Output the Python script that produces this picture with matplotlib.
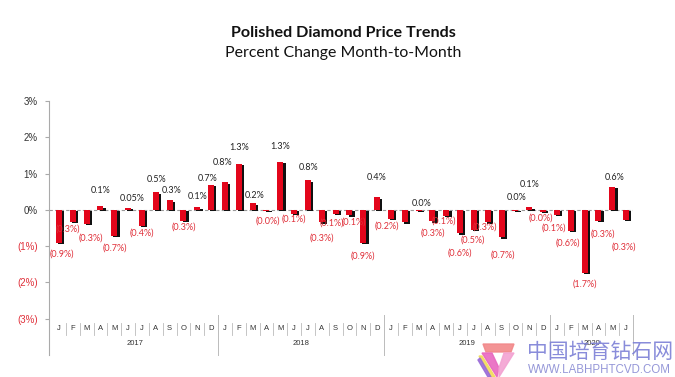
import matplotlib
matplotlib.use("Agg")
import matplotlib.pyplot as plt
from matplotlib.patches import Polygon

# ---------------- data ----------------
months = list("JFMAMJJASOND") * 3 + list("JFMAMJ")
years = ["2017", "2018", "2019", "2020"]
values = [-0.9, -0.33, -0.38, 0.1, -0.72, 0.05, -0.44, 0.49, 0.26, -0.3, 0.07, 0.69,
          0.76, 1.27, 0.18, -0.02, 1.32, -0.11, 0.81, -0.34, -0.11, -0.15, -0.9, 0.35,
          -0.25, -0.34, -0.02, -0.31, -0.16, -0.65, -0.55, -0.34, -0.76, -0.02, 0.07, -0.05,
          -0.13, -0.57, -1.73, -0.3, 0.63, -0.28]
labels = ["(0.9%)", "(0.3%)", "(0.3%)", "0.1%", "(0.7%)", "0.05%", "(0.4%)", "0.5%", "0.3%", "(0.3%)", "0.1%", "0.7%",
          "0.8%", "1.3%", "0.2%", "(0.0%)", "1.3%", "(0.1%)", "0.8%", "(0.3%)", "(0.1%)", "(0.1%)", "(0.9%)", "0.4%",
          "(0.2%)", None, "0.0%", "(0.3%)", "(0.1%)", "(0.6%)", "(0.5%)", "(0.3%)", "(0.7%)", "0.0%", "0.1%", "(0.0%)",
          "(0.1%)", "(0.6%)", "(1.7%)", "(0.3%)", "0.6%", "(0.3%)"]
ytick_vals = [3, 2, 1, 0, -1, -2, -3]
ytick_labels = ["3%", "2%", "1%", "0%", "(1%)", "(2%)", "(3%)"]

# label placement (pixel offsets from bar end; dy positive = downwards)
lbl_dx = [3, -5, 4, 0, 1, 4, 0, 1, 2, 0, 0, -3,
          -2, 0, 2, 1, 0, 0, 1, 0, -4, 4, 0, 0,
          -4, 0, 3, 0, -2, 0, -1, -3, 1, 1, 0, -2,
          -3, -3, 0, 4, 2, -2]
lbl_dy = [12, 7, 14, -16, 12, -10, 7, -13, -10, 6, -11, -6,
          -20, -16, -8, 10, -15, 5, -13, 16, 9, 7, 14, -20,
          7, 0, -7, 12, 5, 20, 10, 5, 18, -13, -23, 6,
          14, 13, 11, 13, -9, 27]

W, H = 675, 377
fig = plt.figure(figsize=(W / 100, H / 100), dpi=100)
fig.patch.set_facecolor("white")

ax = fig.add_axes([49 / W, 1 - 355 / H, (633 - 49) / W, (355 - 101) / H])
ax.set_xlim(-0.72, 41.5)
ax.set_ylim(-4.0, 3.0)

x = list(range(len(values)))
# shadow then red bar
ax.bar([i + 0.16 for i in x], values, width=0.44, bottom=-0.04, color="#111111", zorder=2)
ax.bar(x, values, width=0.44, color="#E3061B", zorder=3)

# zero line
ax.plot([-0.72, 41.5], [0, 0], color="#9a9a9a", lw=0.8, ls=(0, (3, 2)), zorder=1)

# data labels
for i, (v, lab) in enumerate(zip(values, labels)):
    if lab is None:
        continue
    col = "#E0303A" if lab.startswith("(") else "#222222"
    ax.annotate(lab, (i, v), xytext=(lbl_dx[i], -lbl_dy[i]), textcoords="offset pixels",
                ha="center", va="center", fontsize=6.5, color=col, family="Lato", zorder=5)

# y axis
for s in ["top", "right", "bottom"]:
    ax.spines[s].set_visible(False)
ax.spines["left"].set_color("#aaaaaa")
ax.spines["left"].set_linewidth(0.8)
ax.set_xticks([])
ax.set_yticks(ytick_vals)
ax.set_yticklabels(ytick_labels, family="Liberation Sans", fontsize=7)
for t, lab in zip(ax.get_yticklabels(), ytick_labels):
    t.set_color("#E0303A" if lab.startswith("(") else "#333333")
ax.tick_params(axis="y", length=3, color="#aaaaaa", pad=5)

# month labels and separators
for i, m in enumerate(months):
    ax.text(i, -3.28, m, ha="center", va="center", fontsize=5.5, color="#333333", family="Liberation Sans")
for i in range(len(months)):
    b = i + 0.5
    if (i + 1) % 12 == 0 or i == len(months) - 1:
        ax.plot([b, b], [-2.9, -4.0], color="#bbbbbb", lw=0.7, clip_on=False)
    else:
        ax.plot([b, b], [-3.12, -3.44], color="#bbbbbb", lw=0.6)
for k, yr in enumerate(years):
    start = 12 * k
    end = min(12 * k + 11, len(months) - 1)
    ax.text((start + end) / 2, -3.68, yr, ha="center", va="center", fontsize=5.5, color="#333333",
            family="Liberation Sans")

# titles
fig.text(343 / W, 1 - 33 / H, "Polished Diamond Price Trends", ha="center", va="center",
         fontsize=11.6, fontweight="bold", family="Lato", color="#111111")
fig.text(343 / W, 1 - 53 / H, "Percent Change Month-to-Month", ha="center", va="center",
         fontsize=11.4, family="Lato", color="#111111")

# watermark
def P(pts):
    return [(px / W, 1 - py / H) for px, py in pts]

for pts, c in [
    ([(483, 344), (514, 344), (511, 352), (486, 352)], "#F2888A"),
    ([(482, 353), (492, 353), (499, 368), (497, 377)], "#E868C0"),
    ([(504, 353), (514, 353), (499, 377), (499, 368)], "#F3A2D2"),
    ([(479, 356), (482, 356), (495, 377), (491, 377)], "#F2DC5A"),
    ([(478, 360), (480, 358), (491, 377), (488, 377)], "#9A6CD8"),
]:
    fig.patches.append(Polygon(P(pts), closed=True, transform=fig.transFigure, color=c, alpha=0.9))

fig.text(527 / W, 1 - 352 / H, "中国培育钻石网", ha="left", va="center", fontsize=15,
         family=["Noto Sans CJK SC", "DejaVu Sans"], color="#7C80D6", alpha=0.9)
fig.text(528 / W, 1 - 370 / H, "WWW.LABHPHTCVD.COM", ha="left", va="center", fontsize=8.3,
         family="Liberation Sans", color="#8A8CD4", alpha=0.9)

fig.savefig("out.png", dpi=100)
